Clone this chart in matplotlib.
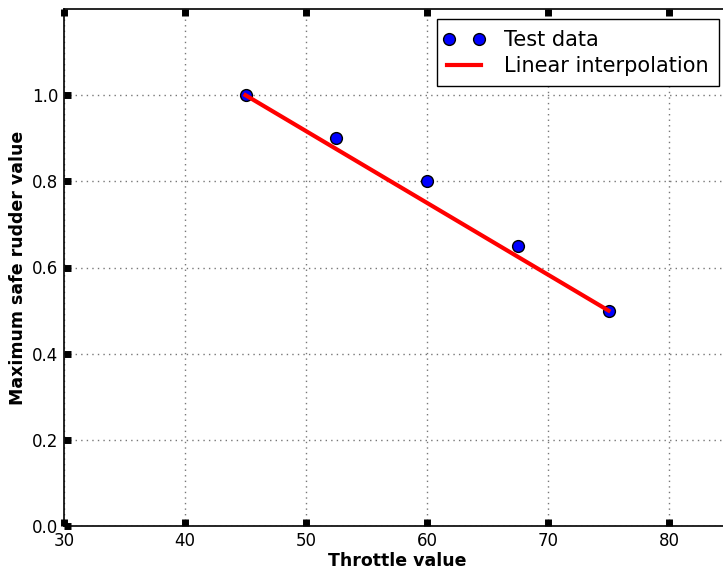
import matplotlib
matplotlib.use("Agg")
import matplotlib.pyplot as plt
from matplotlib.legend_handler import HandlerLine2D

# Measured throttle settings and the largest rudder deflection that stayed safe
throttle = [45, 52.5, 60, 67.5, 75]
max_rudder = [1.0, 0.9, 0.8, 0.65, 0.5]

# Straight line between the two end measurements
interp_throttle = [45, 75]
interp_rudder = [1.0, 0.5]

x_ticks = [30, 40, 50, 60, 70, 80]
y_ticks = [0.0, 0.2, 0.4, 0.6, 0.8, 1.0]

fig = plt.figure(figsize=(7.23, 5.72), dpi=100)
ax = fig.add_axes([64 / 723, 46 / 572, 665.5 / 723, 517 / 572])

pts, = ax.plot(throttle, max_rudder, "o", color="blue", markeredgecolor="black",
               markersize=8.5, label="Test data", zorder=2)
ax.plot(interp_throttle, interp_rudder, "-", color="red", linewidth=3,
        label="Linear interpolation", zorder=3)

ax.set_xlim(30, 85)
ax.set_ylim(0, 1.2)
ax.set_xticks(x_ticks)
ax.set_yticks(y_ticks)
ax.set_yticklabels([f"{v:.1f}" for v in y_ticks])

ax.grid(True, linestyle=(0, (1, 3)), color="#777777", linewidth=1)
ax.set_axisbelow(True)
ax.tick_params(direction="in", length=5, width=5, labelsize=12,
               top=True, right=True, pad=4)
for s in ax.spines.values():
    s.set_linewidth(1.2)

ax.set_xlabel("Throttle value", fontsize=12.5, fontweight="bold", labelpad=2)
ax.set_ylabel("Maximum safe rudder value", fontsize=12.5, fontweight="bold")

ax.legend(loc="upper right", fontsize=15, fancybox=False,
          edgecolor="black", framealpha=1, borderaxespad=0.5,
          handlelength=1.63, handletextpad=1.1, borderpad=0.5,
          labelspacing=0.3,
          handler_map={pts: HandlerLine2D(numpoints=2, marker_pad=0.1)})

fig.savefig("out.png", dpi=100)
